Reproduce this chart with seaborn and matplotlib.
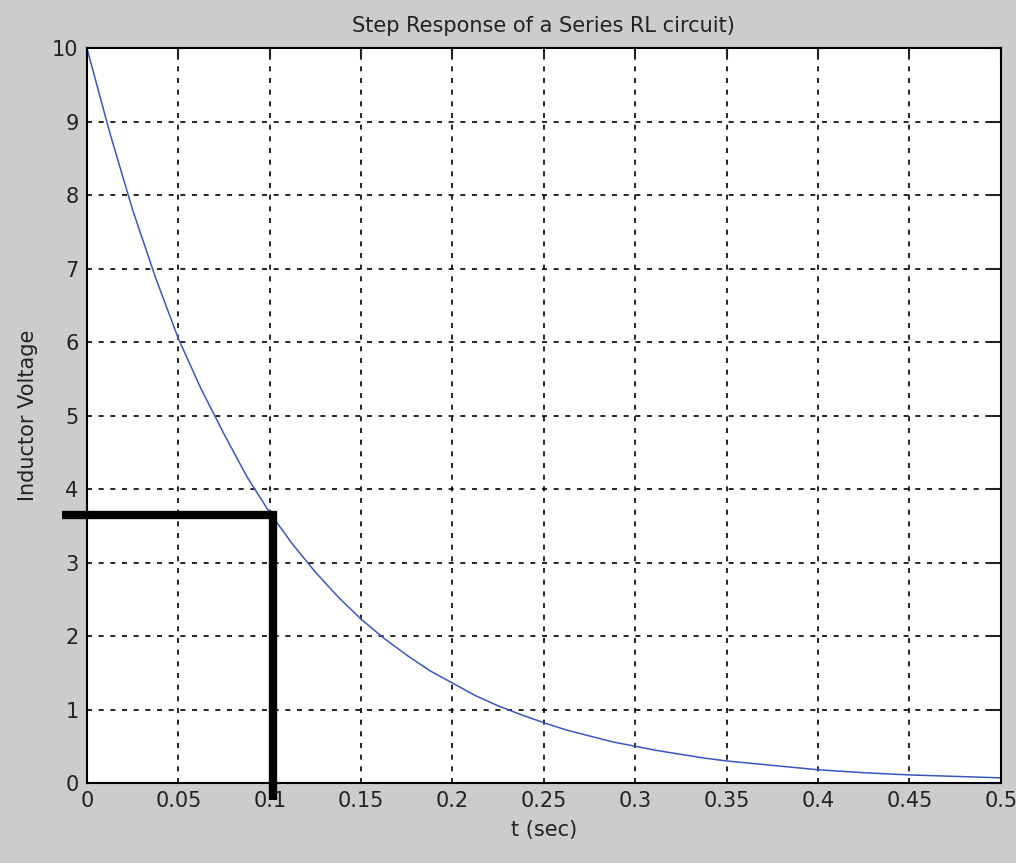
import numpy as np
import pandas as pd
import matplotlib
matplotlib.use('Agg')
import matplotlib.pyplot as plt
import seaborn as sns

# valores (tensao no indutor)
tempo = [0.0, 0.0125, 0.025, 0.0375, 0.05, 0.0625, 0.075, 0.0875, 0.1, 0.1125,
         0.125, 0.1375, 0.15, 0.1625, 0.175, 0.1875, 0.2, 0.2125, 0.225, 0.2375,
         0.25, 0.2625, 0.275, 0.2875, 0.3, 0.3125, 0.325, 0.3375, 0.35, 0.3625,
         0.375, 0.3875, 0.4, 0.4125, 0.425, 0.4375, 0.45, 0.4625, 0.475, 0.4875, 0.5]
tensao = [10.0, 8.85, 7.8, 6.88, 6.05, 5.36, 4.75, 4.17, 3.68, 3.25,
          2.87, 2.53, 2.23, 1.97, 1.74, 1.53, 1.36, 1.19, 1.05, 0.93,
          0.82, 0.72, 0.64, 0.56, 0.5, 0.44, 0.39, 0.34, 0.3, 0.27,
          0.24, 0.21, 0.18, 0.16, 0.14, 0.125, 0.11, 0.1, 0.09, 0.08, 0.07]

# marcacao da constante de tempo
marca_t = [-0.0137, 0.102, 0.102]
marca_v = [3.65, 3.65, -0.23]

x_ticks = [0, 0.05, 0.1, 0.15, 0.2, 0.25, 0.3, 0.35, 0.4, 0.45, 0.5]
x_labels = ['0', '0.05', '0.1', '0.15', '0.2', '0.25', '0.3', '0.35', '0.4', '0.45', '0.5']
y_ticks = list(range(0, 11))

sns.set_style('white')
plt.rcParams['font.family'] = ['DejaVu Sans']
plt.rcParams['text.color'] = '#222222'
plt.rcParams['axes.labelcolor'] = '#222222'

fig = plt.figure(figsize=(10.16, 8.63), dpi=100, facecolor='#cccccc')
ax = fig.add_axes([0.0856, 0.0927, 0.8994, 0.8513])
ax.set_facecolor('white')

df = pd.DataFrame({'t': tempo, 'v': tensao})
sns.lineplot(data=df, x='t', y='v', ax=ax, color='#3a56c4', lw=1.1)

ax.plot(marca_t, marca_v, color='black', lw=6, clip_on=False,
        solid_joinstyle='miter', solid_capstyle='butt', zorder=5)

ax.set_xlim(0, 0.5)
ax.set_ylim(0, 10)
ax.set_xticks(x_ticks)
ax.set_xticklabels(x_labels)
ax.set_yticks(y_ticks)
ax.grid(True, color='black', linestyle=(0, (3, 4)), lw=1.2)
ax.tick_params(direction='in', top=True, right=True, length=8, width=1.5,
               labelsize=15, colors='#222222', pad=6)
for s in ax.spines.values():
    s.set_visible(True)
    s.set_color('black')
    s.set_linewidth(1.5)

ax.set_title('Step Response of a Series RL circuit)', fontsize=15, pad=12)
ax.set_xlabel('t (sec)', fontsize=15, labelpad=6)
ax.set_ylabel('Inductor Voltage', fontsize=15, labelpad=10)

plt.savefig('out.png', dpi=100, facecolor=fig.get_facecolor())
plt.close()
